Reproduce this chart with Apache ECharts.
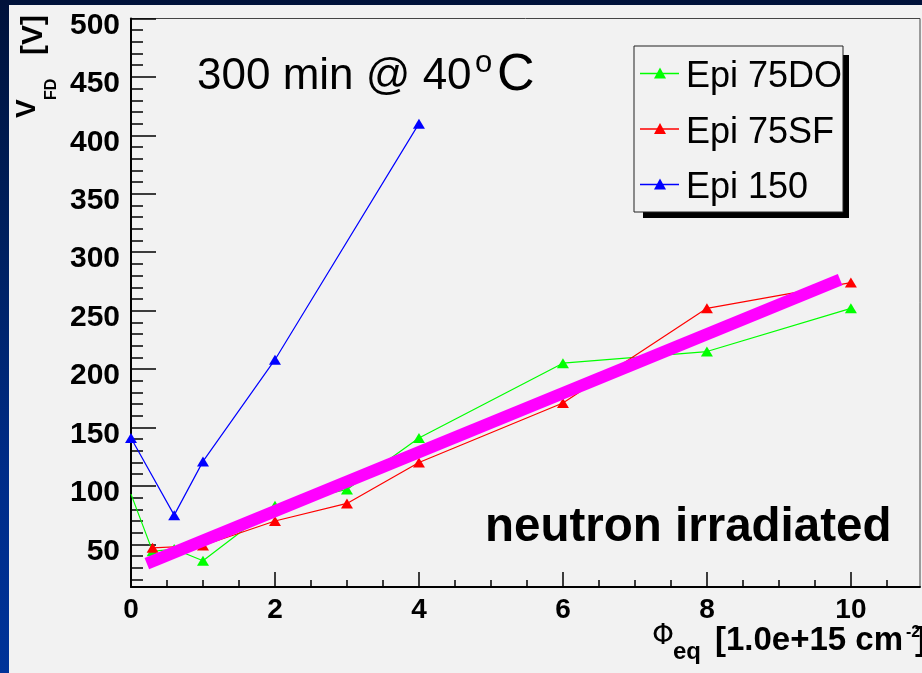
<!DOCTYPE html>
<html>
<head>
<meta charset="utf-8">
<script src="https://cdn.jsdelivr.net/npm/echarts@6/dist/echarts.min.js"></script>
<style>
  html, body { margin:0; padding:0; }
  body { width:922px; height:673px; overflow:hidden; position:relative;
         background: linear-gradient(to bottom, #00123a 0%, #00205e 35%, #002c88 70%, #003399 100%); }
  #panel { position:absolute; left:9px; top:5px; width:913px; height:668px; background:#f2f2f2; }
  #chart { position:absolute; left:0; top:0; width:922px; height:673px; }
</style>
</head>
<body>
<div id="panel"></div>
<div id="chart"></div>
<script>
// ---- data ----
const seriesNames = ['Epi 75DO', 'Epi 75SF', 'Epi 150'];
const greenX = [0, 0.3, 0.6, 1, 2, 3, 4, 6, 8, 10];
const greenY = [93, 44, 46, 36, 83, 97, 141, 205, 215, 252];
const redX   = [0.3, 1, 2, 3, 4, 6, 8, 10];
const redY   = [47, 49, 70, 85, 120, 171, 252, 274];
const blueX  = [0, 0.6, 1, 2, 4];
const blueY  = [141, 75, 121, 208, 410];
const fitX   = [0.22, 9.85];
const fitY   = [33.5, 276.5];
const xTicks = [0, 2, 4, 6, 8, 10];
const xMinorTicks = [0.5, 1, 1.5, 2.5, 3, 3.5, 4.5, 5, 5.5, 6.5, 7, 7.5, 8.5, 9, 9.5, 10.5];
const yTicks = [50, 100, 150, 200, 250, 300, 350, 400, 450, 500];
const yMinorTicks = [20, 30, 40, 60, 70, 80, 90, 110, 120, 130, 140, 160, 170, 180, 190,
  210, 220, 230, 240, 260, 270, 280, 290, 310, 320, 330, 340, 360, 370, 380, 390,
  410, 420, 430, 440, 460, 470, 480, 490];
const xRange = [0, 10.96];
const yRange = [13.5, 500];
const titleText = '300 min @ 40';
const noteText = 'neutron irradiated';

const colors = ['#00ff00', '#ff0000', '#0000ff'];
const FONT = 'Liberation Sans, Arial, Helvetica, sans-serif';

function pairs(xs, ys, hideFirst) {
  return xs.map((x, i) => (hideFirst && i === 0) ? { value: [x, ys[i]], symbol: 'none' } : [x, ys[i]]);
}

const chart = echarts.init(document.getElementById('chart'), null, { renderer: 'canvas' });

const legendRows = [73.5, 129, 184.5];
const legendGraphics = [
  { type: 'rect', shape: { x: 643, y: 55, width: 206, height: 163 }, style: { fill: '#000' }, z: 50 },
  { type: 'rect', shape: { x: 634, y: 46, width: 209, height: 166 }, style: { fill: '#f2f2f2', stroke: '#222', lineWidth: 1 }, z: 51 }
];
seriesNames.forEach((n, i) => {
  const y = legendRows[i];
  legendGraphics.push({ type: 'line', shape: { x1: 640, y1: y, x2: 679, y2: y }, style: { stroke: colors[i], lineWidth: 1.5 }, z: 52 });
  legendGraphics.push({ type: 'polygon', shape: { points: [[654, y + 5], [666, y + 5], [660, y - 6]] }, style: { fill: colors[i] }, z: 53 });
  legendGraphics.push({ type: 'text', x: 686, y: y + 4, style: { text: n, font: '36px ' + FONT, fill: '#000', textAlign: 'left', textVerticalAlign: 'middle' }, z: 53 });
});

const textGraphics = [
  { type: 'text', x: 197, y: 77, style: { text: titleText, font: '44px ' + FONT, fill: '#000', textAlign: 'left', textVerticalAlign: 'middle' } },
  { type: 'text', x: 475, y: 63, style: { text: 'o', font: '31px ' + FONT, fill: '#000', textAlign: 'left', textVerticalAlign: 'middle' } },
  { type: 'text', x: 497, y: 76, style: { text: 'C', font: '52px ' + FONT, fill: '#000', textAlign: 'left', textVerticalAlign: 'middle' } },
  { type: 'text', x: 485, y: 528, style: { text: noteText, font: 'bold 47.5px ' + FONT, fill: '#000', textAlign: 'left', textVerticalAlign: 'middle' } },
  // y axis title (rotated)
  { type: 'text', x: 27, y: 118, rotation: Math.PI / 2, style: { text: 'V', font: 'bold 28px ' + FONT, fill: '#000', textAlign: 'left', textVerticalAlign: 'middle' } },
  { type: 'text', x: 52, y: 100, rotation: Math.PI / 2, style: { text: 'FD', font: 'bold 16px ' + FONT, fill: '#000', textAlign: 'left', textVerticalAlign: 'middle' } },
  { type: 'text', x: 34, y: 55, rotation: Math.PI / 2, style: { text: '[V]', font: 'bold 30px ' + FONT, fill: '#000', textAlign: 'left', textVerticalAlign: 'middle' } },
  // x axis title
  { type: 'text', x: 652, y: 637, style: { text: 'Φ', font: '28px DejaVu Sans, ' + FONT, fill: '#000', textAlign: 'left', textVerticalAlign: 'middle' } },
  { type: 'text', x: 673, y: 652, style: { text: 'eq', font: 'bold 24px ' + FONT, fill: '#000', textAlign: 'left', textVerticalAlign: 'middle' } },
  { type: 'text', x: 715, y: 641, style: { text: '[1.0e+15 cm', font: 'bold 33px ' + FONT, fill: '#000', textAlign: 'left', textVerticalAlign: 'middle' } },
  { type: 'text', x: 906, y: 633, style: { text: '-2', font: 'bold 16px ' + FONT, fill: '#000', textAlign: 'left', textVerticalAlign: 'middle' } },
  { type: 'text', x: 915, y: 641, style: { text: ']', font: 'bold 33px ' + FONT, fill: '#000', textAlign: 'left', textVerticalAlign: 'middle' } }
];

const option = {
  animation: false,
  backgroundColor: 'transparent',
  grid: { left: 131, top: 18.5, right: 2, bottom: 86, show: true, borderColor: '#444', borderWidth: 1, backgroundColor: 'transparent' },
  xAxis: [
    { type: 'value', min: xRange[0], max: xRange[1], position: 'bottom',
      axisLine: { show: true, lineStyle: { color: '#000', width: 2 } },
      axisTick: { show: true, inside: true, length: 15, customValues: xTicks, lineStyle: { color: '#000', width: 1.5 } },
      axisLabel: { customValues: xTicks, margin: 9, fontSize: 28, fontWeight: 'bold', color: '#000', fontFamily: FONT },
      splitLine: { show: false } },
    { type: 'value', min: xRange[0], max: xRange[1], position: 'bottom', offset: 0,
      axisLine: { show: false },
      axisTick: { show: true, inside: true, length: 7, customValues: xMinorTicks, lineStyle: { color: '#000', width: 1.5 } },
      axisLabel: { show: false }, splitLine: { show: false } }
  ],
  yAxis: [
    { type: 'value', min: yRange[0], max: yRange[1], position: 'left',
      axisLine: { show: true, lineStyle: { color: '#000', width: 2 } },
      axisTick: { show: true, inside: true, length: 25, customValues: yTicks, lineStyle: { color: '#000', width: 1.5 } },
      axisLabel: { customValues: yTicks, margin: 11, verticalAlign: 'top', lineHeight: 14,
                   fontSize: 30, fontWeight: 'bold', color: '#000', fontFamily: FONT },
      splitLine: { show: false } },
    { type: 'value', min: yRange[0], max: yRange[1], position: 'left', offset: 0,
      axisLine: { show: false },
      axisTick: { show: true, inside: true, length: 12, customValues: yMinorTicks, lineStyle: { color: '#000', width: 1.5 } },
      axisLabel: { show: false }, splitLine: { show: false } }
  ],
  series: [
    { name: seriesNames[0], type: 'line', data: pairs(greenX, greenY, true), symbol: 'triangle', symbolSize: [12, 10],
      lineStyle: { color: colors[0], width: 1.2 }, itemStyle: { color: colors[0] }, z: 3 },
    { name: seriesNames[1], type: 'line', data: pairs(redX, redY, false), symbol: 'triangle', symbolSize: [12, 10],
      lineStyle: { color: colors[1], width: 1.2 }, itemStyle: { color: colors[1] }, z: 4 },
    { name: seriesNames[2], type: 'line', data: pairs(blueX, blueY, false), symbol: 'triangle', symbolSize: [12, 10],
      lineStyle: { color: colors[2], width: 1.2 }, itemStyle: { color: colors[2] }, z: 5 },
    { name: 'fit', type: 'line', data: pairs(fitX, fitY, false), symbol: 'none',
      lineStyle: { color: '#ff00ff', width: 12, cap: 'butt' }, z: 6 }
  ],
  graphic: { elements: textGraphics.concat(legendGraphics) }
};
chart.setOption(option);
</script>
</body>
</html>
